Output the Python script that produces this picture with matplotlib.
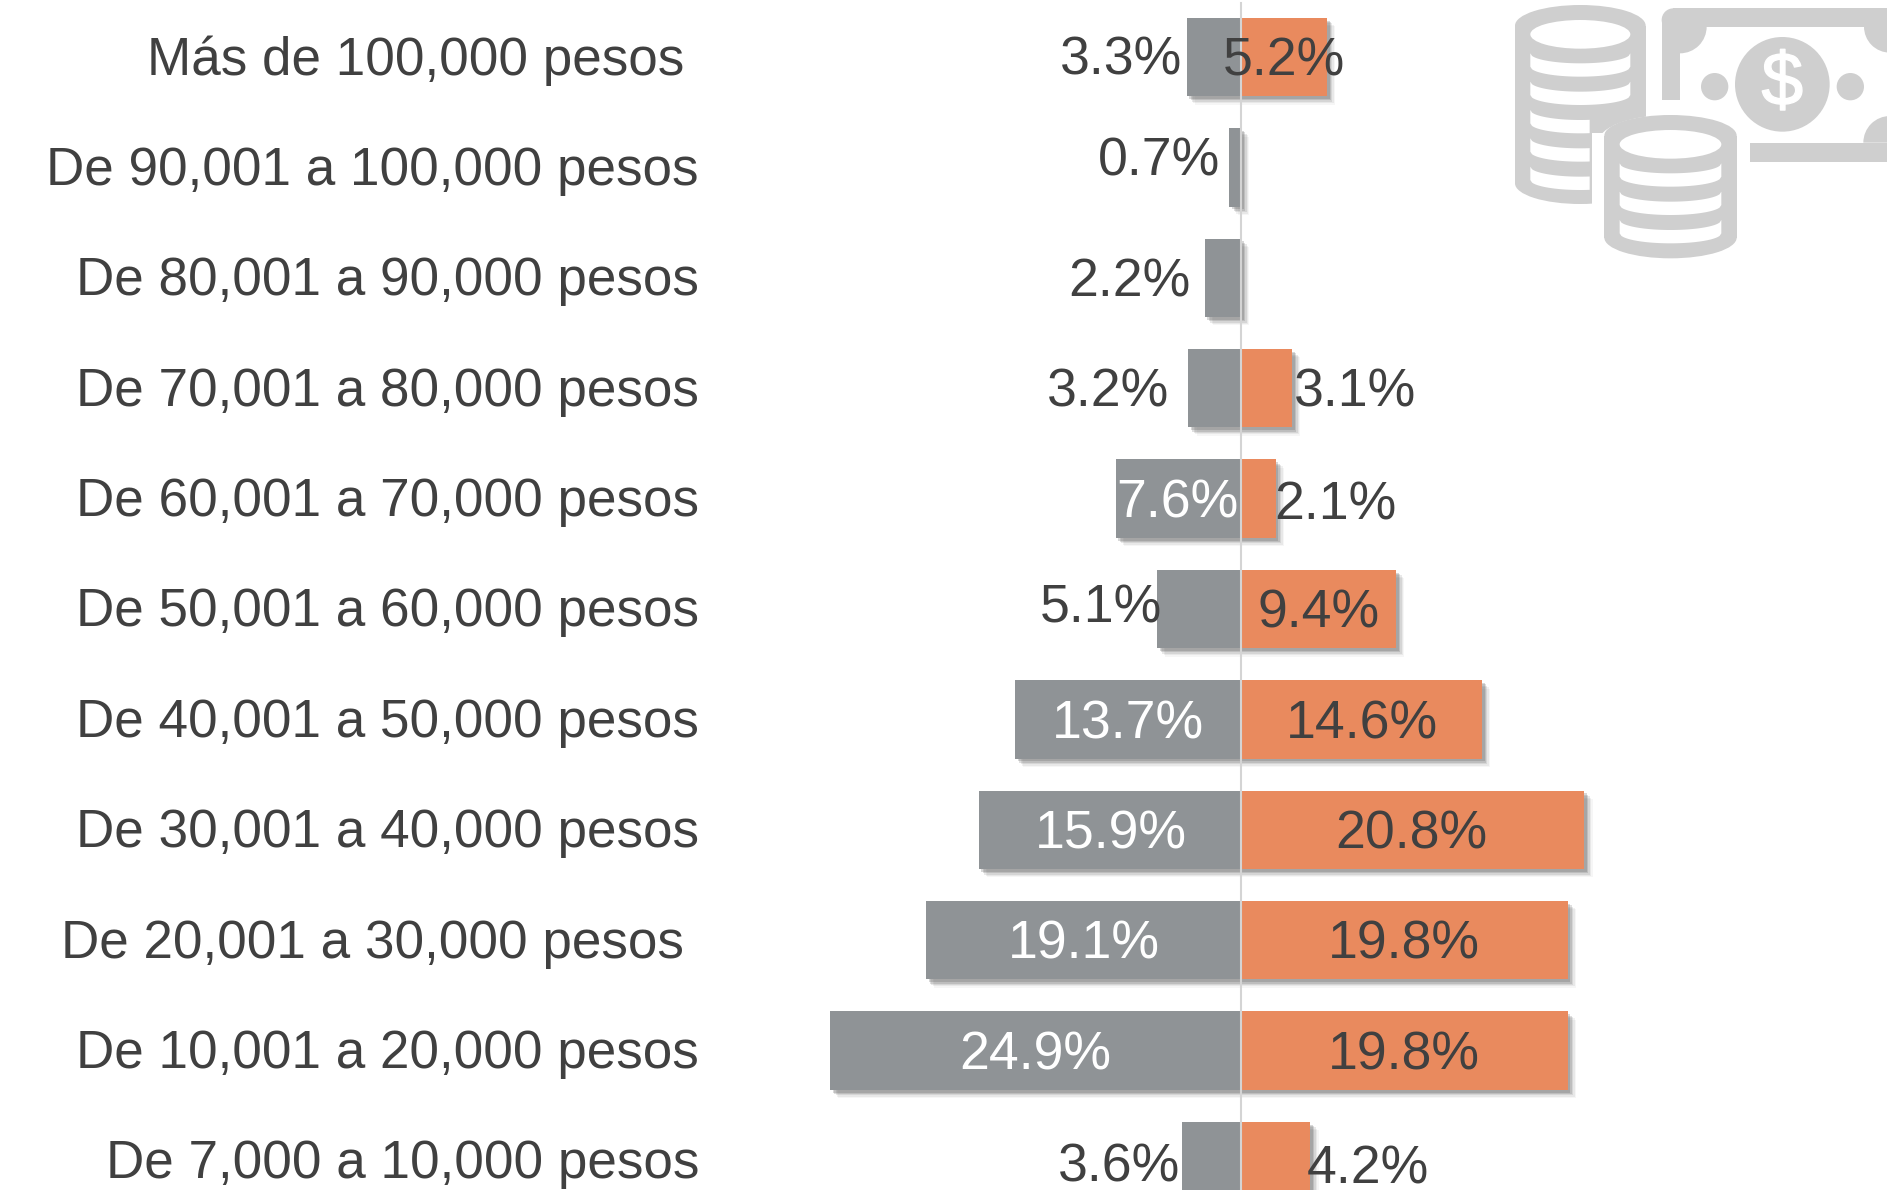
import numpy as np
import matplotlib
matplotlib.use("Agg")
import matplotlib.pyplot as plt
import matplotlib.patheffects as pe
from matplotlib.patches import Circle, Ellipse, Polygon, Rectangle, Wedge

categories = [
    "Más de 100,000 pesos",
    "De 90,001 a 100,000 pesos",
    "De 80,001 a 90,000 pesos",
    "De 70,001 a 80,000 pesos",
    "De 60,001 a 70,000 pesos",
    "De 50,001 a 60,000 pesos",
    "De 40,001 a 50,000 pesos",
    "De 30,001 a 40,000 pesos",
    "De 20,001 a 30,000 pesos",
    "De 10,001 a 20,000 pesos",
    "De 7,000 a 10,000 pesos",
]
grey_values = [3.3, 0.7, 2.2, 3.2, 7.6, 5.1, 13.7, 15.9, 19.1, 24.9, 3.6]
orange_values = [5.2, None, None, 3.1, 2.1, 9.4, 14.6, 20.8, 19.8, 19.8, 4.2]

# Etiketten sind im Original von Hand verschoben (Mitte in Datenkoordinaten)
grey_label_x = [-7.25, -5.0, -6.75, -8.05, -3.85, -8.5, -6.85, -7.9, -9.55, -12.5, -7.4]
grey_label_dy = [-0.01, -0.09, 0.0, 0.0, 0.0, -0.04, 0.01, 0.0, 0.0, 0.0, 0.02]
orange_label_x = [2.6, None, None, 6.9, 5.7, 4.7, 7.3, 10.35, 9.9, 9.9, 7.7]
orange_label_dy = [0.0, None, None, 0.0, 0.02, 0.0, 0.01, 0.0, 0.0, 0.0, 0.04]
white_grey = [False, False, False, False, True, False, True, True, True, True, False]
# rechte Kante der Kategorietexte in Pixel
label_right = [684, 699, 699, 699, 699, 699, 699, 699, 684, 699, 699]

GREY = "#8f9396"
ORANGE = "#e98a5e"
TEXT = "#404040"
ICON = "#cfcfcf"

W, H = 1887, 1190
PX_PER_UNIT = 16.5
CENTER_X = 1241
ROW0 = 57.0
ROW_STEP = 110.4
TEXT_DROP = 0.04

plt.rcParams["font.family"] = ["Liberation Sans", "DejaVu Sans"]

fig = plt.figure(figsize=(W / 100, H / 100), dpi=100, facecolor="white")
ax = fig.add_axes([0, 0, 1, 1])
ax.set_xlim(-CENTER_X / PX_PER_UNIT, (W - CENTER_X) / PX_PER_UNIT)
ax.set_ylim((H - ROW0) / ROW_STEP, -ROW0 / ROW_STEP)
ax.axis("off")

# weicher Schatten: mehrere versetzte Lagen
shadow = [
    pe.SimplePatchShadow(offset=(o, -o), shadow_rgbFace="#505050", alpha=a)
    for o, a in [(6, 0.05), (5, 0.08), (4, 0.12), (3, 0.18), (2, 0.22)]
] + [pe.Normal()]

y = np.arange(len(categories))
orange_plot = [0 if v is None else v for v in orange_values]
grey_bars = ax.barh(y, [-v for v in grey_values], height=0.71, color=GREY, zorder=2)
orange_bars = ax.barh(y, orange_plot, height=0.71, color=ORANGE, zorder=2)
for b, v in zip(orange_bars, orange_values):
    if v is None:
        b.set_visible(False)
for b in list(grey_bars) + list(orange_bars):
    b.set_path_effects(shadow)

# Mittellinie
ax.plot([0, 0], [-0.49, 10.3], color="#d4d4d4", lw=1.5, zorder=3)

FS = 38.6
for i, name in enumerate(categories):
    x_txt = (label_right[i] - CENTER_X) / PX_PER_UNIT
    ax.text(x_txt, i + TEXT_DROP - 0.01, name, ha="right", va="center", fontsize=38.2, color=TEXT, zorder=4)
    ax.text(grey_label_x[i], i + grey_label_dy[i] + TEXT_DROP, f"{grey_values[i]}%", ha="center", va="center",
            fontsize=FS, color="white" if white_grey[i] else TEXT, zorder=4)
    if orange_values[i] is not None:
        ax.text(orange_label_x[i], i + orange_label_dy[i] + TEXT_DROP, f"{orange_values[i]}%", ha="center",
                va="center", fontsize=FS, color=TEXT, zorder=4)


def coin_stack(iax, x0, x1, top, bottom, band_tops, band_clip=None):
    """Muenzstapel als Silhouette mit weissen Streifen."""
    cx = (x0 + x1) / 2
    rx = (x1 - x0) / 2
    ry = 62
    iax.add_patch(Ellipse((cx, top + ry), 2 * rx, 2 * ry, color=ICON, lw=0))
    iax.add_patch(Ellipse((cx, bottom - ry), 2 * rx, 2 * ry, color=ICON, lw=0))
    iax.add_patch(Rectangle((x0, top + ry), 2 * rx, bottom - top - 2 * ry, color=ICON, lw=0))
    hole_rx = rx - 46
    iax.add_patch(Ellipse((cx, top + 88), 2 * hole_rx, 86, color="white", lw=0))
    t = np.linspace(-1, 1, 60)
    for ya in band_tops:
        xs = cx + hole_rx * t
        sag = 30 * np.sqrt(1 - t ** 2)
        keep = xs <= band_clip if band_clip is not None and ya > 300 else np.ones_like(t, bool)
        upper = np.column_stack([xs[keep], ya + sag[keep]])
        lower = np.column_stack([xs[keep], ya + 40 + sag[keep]])[::-1]
        iax.add_patch(Polygon(np.vstack([upper, lower]), color="white", lw=0))


# Icon in Pixelkoordinaten (3-fach) des Ausschnitts oben rechts
iax = fig.add_axes([1480 / W, 1 - 270 / H, 407 / W, 270 / H])
iax.set_xlim(0, 1221)
iax.set_ylim(810, 0)
iax.axis("off")
iax.patch.set_alpha(0)

# Geldschein
iax.add_patch(Circle((580, 60), 35, color=ICON, lw=0))
iax.add_patch(Rectangle((580, 25), 641, 55, color=ICON, lw=0))
iax.add_patch(Rectangle((545, 60), 55, 240, color=ICON, lw=0))
iax.add_patch(Wedge((600, 80), 80, 0, 90, color=ICON, lw=0))
iax.add_patch(Wedge((1230, 80), 78, 90, 180, color=ICON, lw=0))
iax.add_patch(Wedge((1230, 428), 80, 180, 270, color=ICON, lw=0))
iax.add_patch(Rectangle((810, 428), 411, 57, color=ICON, lw=0))
iax.add_patch(Circle((907, 253), 142, color=ICON, lw=0))
iax.add_patch(Circle((704, 260), 41, color=ICON, lw=0))
iax.add_patch(Circle((1111, 260), 41, color=ICON, lw=0))
iax.text(907, 256, "$", ha="center", va="center", fontsize=54, color="white",
         path_effects=[pe.withStroke(linewidth=1.0, foreground="white")])

# Grosser Stapel, danach weisser Rand um den kleinen Stapel
coin_stack(iax, 105, 497, 15, 612, [160, 245, 330, 415, 500], band_clip=333)
iax.add_patch(Rectangle((335, 400), 200, 230, color="white", lw=0))
iax.add_patch(Ellipse((571, 425), 430, 160, color="white", lw=0))
coin_stack(iax, 373, 770, 345, 775, [490, 575, 660])

fig.savefig("out.png", dpi=100)
plt.close(fig)
